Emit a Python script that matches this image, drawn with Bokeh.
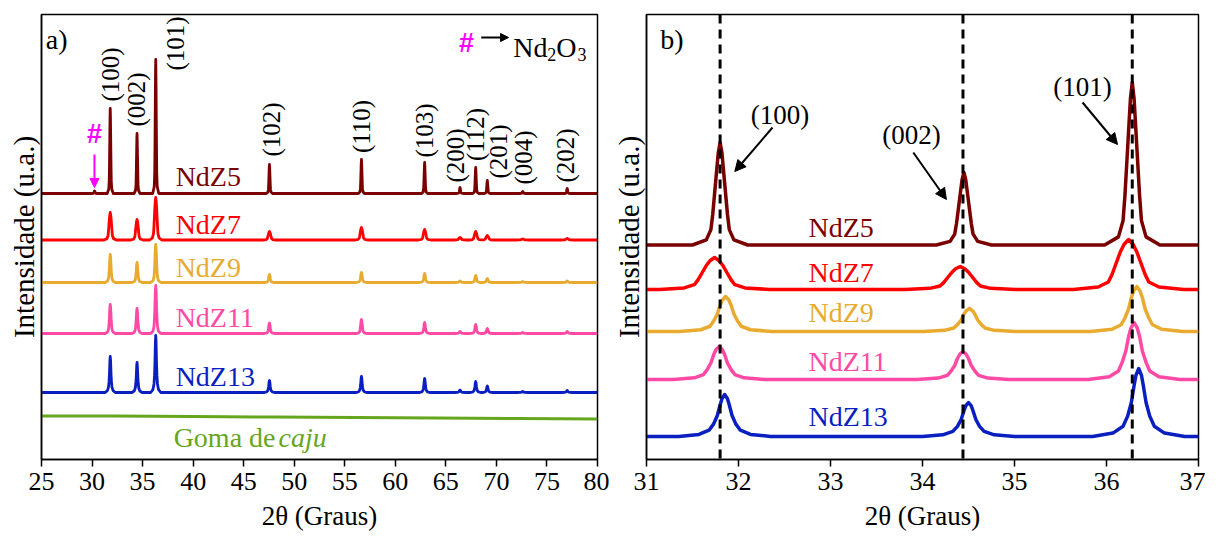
import numpy as np
from bokeh.plotting import figure
from bokeh.models import Range1d, Span, Arrow, NormalHead, FixedTicker, Label
from bokeh.layouts import row
from bokeh.embed import file_html
from bokeh.resources import INLINE

# ---------------- data ----------------
samples = ["NdZ5", "NdZ7", "NdZ9", "NdZ11", "NdZ13"]
colors = ["#7a0000", "#ff0000", "#e8ab30", "#ff4aa5", "#0a1fbf"]
goma_color = "#66a61e"
hash_color = "#ff00ff"

# panel a) : full pattern
peak_pos_a = [30.25, 31.80, 34.45, 36.30, 47.55, 56.65, 62.90, 66.40, 67.95, 69.10, 72.60, 77.00]
peak_labels_a = ["(100)", "(002)", "(101)", "(102)", "(110)", "(103)", "(200)", "(112)", "(201)", "(004)", "(202)"]
label_x_a = [31.85, 34.42, 38.27, 47.77, 56.67, 62.90, 66.00, 67.92, 70.19, 72.65, 76.88]
label_y_a = [385, 360, 416, 330, 333, 329, 304, 325, 308, 302, 304]
heights_a = {
    "NdZ5":  [2.5, 85, 60, 134, 29, 34, 31, 6, 26, 13, 2, 5],
    "NdZ7":  [0, 27.5, 20.5, 42.5, 8.5, 12.5, 10.5, 2.5, 8.5, 4.5, 1, 1.5],
    "NdZ9":  [0, 28, 20, 38, 8, 10, 9, 1.5, 7, 4, 1, 1.5],
    "NdZ11": [0, 29, 25, 48, 10.5, 14, 11, 2, 9, 5, 1, 2],
    "NdZ13": [0, 36, 30, 57, 12, 16, 14, 2.5, 11, 6.5, 1, 2],
}
baseline_a = {"NdZ5": 266, "NdZ7": 219.5, "NdZ9": 177, "NdZ11": 126, "NdZ13": 67}
name_y_a = {"NdZ5": 283, "NdZ7": 235, "NdZ9": 192, "NdZ11": 142, "NdZ13": 83}
goma_x = [25, 32, 40, 48, 56, 64, 72, 80]
goma_y = [43.5, 43.5, 43, 42.5, 42, 41.5, 41, 40.5]

# peak half-widths (deg) at 90, 75, 50, 30, 15, 5 and 0 % of the peak height
rel_levels = [0.9, 0.75, 0.5, 0.3, 0.15, 0.05, 0.0]
widths = {
    "NdZ5":  [0.020, 0.035, 0.06, 0.08, 0.10, 0.15, 0.30],
    "NdZ7":  [0.050, 0.090, 0.14, 0.18, 0.22, 0.33, 0.60],
    "NdZ9":  [0.035, 0.060, 0.09, 0.13, 0.17, 0.27, 0.50],
    "NdZ11": [0.035, 0.060, 0.09, 0.13, 0.17, 0.27, 0.50],
    "NdZ13": [0.030, 0.050, 0.08, 0.12, 0.17, 0.28, 0.50],
}

# panel b) : zoom 31-37
peak_pos_b = {
    "NdZ5":  [31.80, 34.45, 36.28],
    "NdZ7":  [31.74, 34.41, 36.24],
    "NdZ9":  [31.86, 34.51, 36.33],
    "NdZ11": [31.79, 34.44, 36.30],
    "NdZ13": [31.85, 34.50, 36.35],
}
heights_b = {
    "NdZ5":  [102.5, 72.5, 162.5],
    "NdZ7":  [32, 23, 50],
    "NdZ9":  [35, 23, 45],
    "NdZ11": [33, 28, 57],
    "NdZ13": [42, 34, 68],
}
baseline_b = {"NdZ5": 214.5, "NdZ7": 170, "NdZ9": 128, "NdZ11": 80, "NdZ13": 23}
name_y_b = {"NdZ5": 232, "NdZ7": 187, "NdZ9": 147, "NdZ11": 98, "NdZ13": 43}
ref_lines_b = [31.80, 34.44, 36.28]
ann_b = [("(100)", 32.45, 345, 32.37, 332, 31.96, 288),
         ("(002)", 33.88, 325, 33.90, 307, 34.26, 260),
         ("(101)", 35.74, 373, 35.74, 357, 36.12, 315)]

SERIF = "'Liberation Serif'"
SANS = "'Liberation Sans'"
Y_TITLE = "Intensidade (u.a.)"
X_TITLE = "2θ (Graus)"


def build(base, positions, heights, w, xmin, xmax):
    w = np.array(w)
    offs = np.concatenate([-w[::-1], [0.0], w])
    levels = np.concatenate([rel_levels[::-1], [1.0], rel_levels])
    pts = {xmin, xmax}
    for c in positions:
        for o in offs:
            if xmin <= c + o <= xmax:
                pts.add(round(c + o, 6))
    xs = np.array(sorted(pts))
    ys = np.full(xs.shape, float(base))
    for c, h in zip(positions, heights):
        if h > 0:
            ys += h * np.interp(xs, c + offs, levels, left=0, right=0)
    return xs, ys


def style(p, ticks):
    p.outline_line_color = "black"
    p.outline_line_width = 1.5
    p.xgrid.visible = False
    p.ygrid.visible = False
    p.background_fill_color = "white"
    p.border_fill_color = "white"
    ax = p.xaxis[0]
    ax.ticker = FixedTicker(ticks=ticks)
    ax.axis_line_width = 1.5
    ax.major_tick_line_width = 1.5
    ax.major_tick_out = 7
    ax.major_tick_in = 0
    ax.minor_tick_out = 0
    ax.minor_tick_in = 0
    ax.major_label_text_font = SERIF
    ax.major_label_text_font_size = "26px"
    ax.major_label_text_color = "black"
    ax.major_label_standoff = 6
    ax.axis_label = X_TITLE
    ax.axis_label_text_font = SERIF
    ax.axis_label_text_font_size = "27px"
    ax.axis_label_text_font_style = "normal"
    ax.axis_label_text_color = "black"
    ax.axis_label_standoff = 8
    ay = p.yaxis[0]
    ay.ticker = FixedTicker(ticks=[])
    ay.major_label_text_font_size = "0px"
    ay.major_tick_out = 0
    ay.major_tick_in = 0
    ay.minor_tick_out = 0
    ay.minor_tick_in = 0
    ay.axis_line_width = 1.5
    ay.axis_label = Y_TITLE
    ay.axis_label_text_font = SERIF
    ay.axis_label_text_font_size = "29px"
    ay.axis_label_text_font_style = "normal"
    ay.axis_label_text_color = "black"
    ay.axis_label_standoff = 2


def label(p, x, y, text, color="black", size="28px", angle=0.0, align="left",
          baseline="middle", font=SERIF, style_="normal"):
    p.add_layout(Label(x=x, y=y, text=text, text_color=color, text_font=font,
                       text_font_size=size, angle=angle, text_align=align,
                       text_baseline=baseline, text_font_style=style_))


H = 539
TOP = 14
BOTTOM = 80

# ---------------- panel a ----------------
pa = figure(width=609, height=H, output_backend="svg", toolbar_location=None,
            x_range=Range1d(25, 80), y_range=Range1d(0, 445),
            min_border_left=41, min_border_right=12, min_border_top=TOP,
            min_border_bottom=BOTTOM)
style(pa, list(range(25, 81, 5)))

pa.line(goma_x, goma_y, line_color=goma_color, line_width=3)
for s, c in zip(samples, colors):
    xs, ys = build(baseline_a[s], peak_pos_a, heights_a[s], widths[s], 25, 80)
    pa.line(xs, ys, line_color=c, line_width=2.8, line_join="round")
    label(pa, 38.27, name_y_a[s], s, color=c)

label(pa, 38.07, 22, "Goma de", color=goma_color)
label(pa, 48.45, 22, "caju", color=goma_color, style_="italic")

for t, x, y in zip(peak_labels_a, label_x_a, label_y_a):
    label(pa, x, y, t, size="25px", angle=np.pi / 2, align="center")

label(pa, 25.42, 420, "a)")
# Nd2O3 marker
label(pa, 30.24, 326, "#", color=hash_color, size="27px", align="center",
      font=SANS, style_="bold")
pa.add_layout(Arrow(end=NormalHead(size=9, fill_color=hash_color, line_color=hash_color),
                    x_start=30.24, y_start=305, x_end=30.24, y_end=272,
                    line_color=hash_color, line_width=2))
label(pa, 67.03, 417, "#", color=hash_color, size="27px", align="center",
      font=SANS, style_="bold")
pa.add_layout(Arrow(end=NormalHead(size=8, fill_color="black", line_color="black"),
                    x_start=68.5, y_start=422, x_end=71.2, y_end=422,
                    line_color="black", line_width=2))
label(pa, 71.67, 412, "Nd", baseline="alphabetic")
label(pa, 75.03, 405, "2", size="18px", baseline="alphabetic")
label(pa, 75.92, 412, "O", baseline="alphabetic")
label(pa, 78.03, 405, "3", size="18px", baseline="alphabetic")

# ---------------- panel b ----------------
pb = figure(width=596, height=H, output_backend="svg", toolbar_location=None,
            x_range=Range1d(31, 37), y_range=Range1d(0, 445),
            min_border_left=33, min_border_right=7, min_border_top=TOP,
            min_border_bottom=BOTTOM)
style(pb, list(range(31, 38)))

for s, c in zip(samples, colors):
    xs, ys = build(baseline_b[s], peak_pos_b[s], heights_b[s], widths[s], 31, 37)
    pb.line(xs, ys, line_color=c, line_width=3.5, line_join="round")
    label(pb, 32.76, name_y_b[s], s, color=c)

for xv in ref_lines_b:
    pb.add_layout(Span(location=xv, dimension="height", line_color="black",
                       line_width=3, line_dash="9 6"))

for t, tx, ty, x0, y0, x1, y1 in ann_b:
    label(pb, tx, ty, t, size="27px", align="center")
    pb.add_layout(Arrow(end=NormalHead(size=11, fill_color="black", line_color="black"),
                        x_start=x0, y_start=y0, x_end=x1, y_end=y1,
                        line_color="black", line_width=2))

label(pb, 31.15, 420, "b)")

layout = row(pa, pb)
open("out.html", "w").write(file_html(layout, INLINE))
